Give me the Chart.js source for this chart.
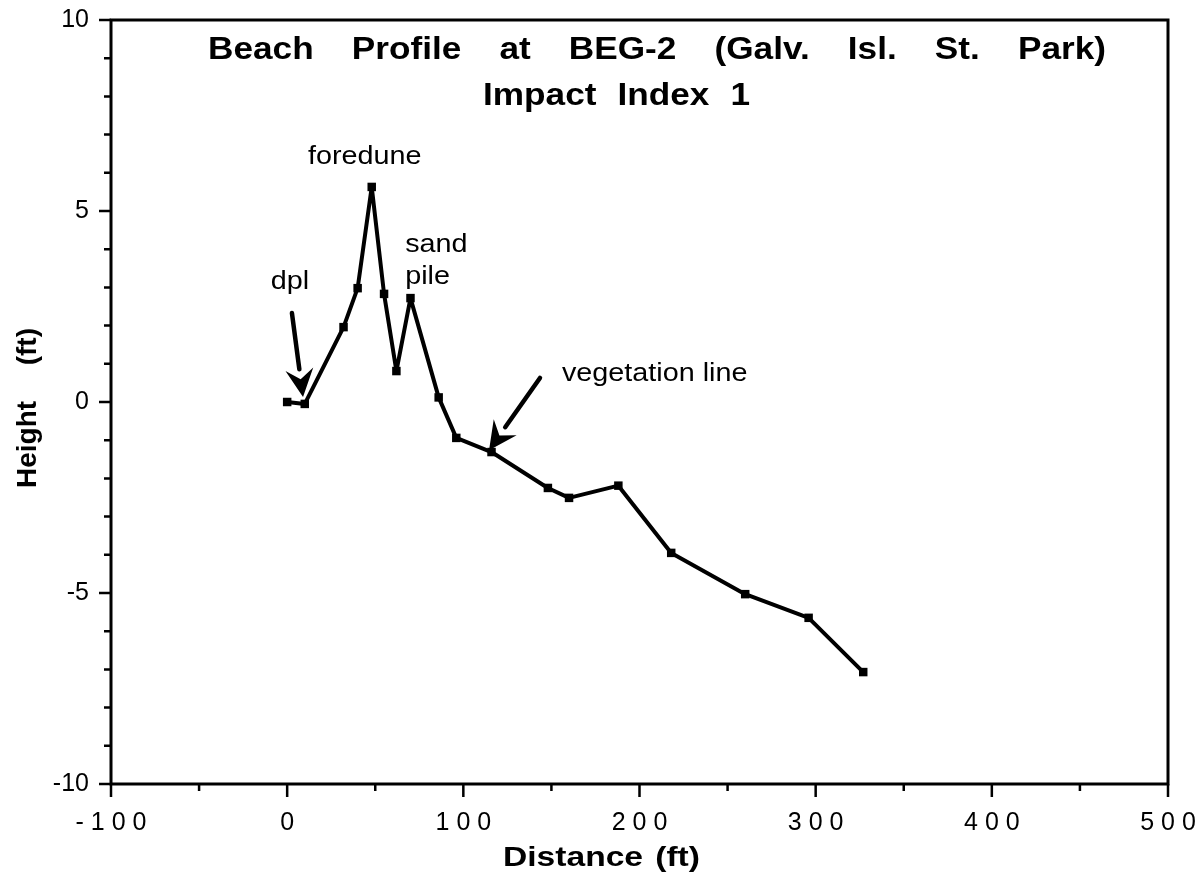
<!DOCTYPE html>
<html>
<head>
<meta charset="utf-8">
<script src="https://cdn.jsdelivr.net/npm/chart.js@4"></script>
<style>
  html, body { margin: 0; padding: 0; background: #fff; }
  #wrap { width: 1204px; height: 876px; }
</style>
</head>
<body>
<div id="wrap"><canvas id="profile" width="1204" height="876"></canvas></div>
<script>
// beach profile
var distance = [0, 10, 32, 40, 48, 55, 62, 70, 86, 96, 116, 148, 160, 188, 218, 260, 296, 327];
var height = [0, -0.05, 1.96, 2.98, 5.63, 2.83, 0.81, 2.72, 0.12, -0.94, -1.31, -2.25, -2.51, -2.19, -3.95, -5.03, -5.65, -7.07];

var xTicks = [-100, 0, 100, 200, 300, 400, 500];
var yTicks = [-10, -5, 0, 5, 10];

var titleLines = ['Beach Profile at BEG-2 (Galv. Isl. St. Park)', 'Impact Index 1'];
var xTitle = 'Distance (ft)';
var yTitle = 'Height (ft)';

// labels and arrows, placed in data units
var notes = [
  { text: 'foredune', x: 44, y: 6.4, align: 'center' },
  { text: 'sand', x: 67, y: 4.1, align: 'left' },
  { text: 'pile', x: 67, y: 3.28, align: 'left' },
  { text: 'dpl', x: 1.6, y: 3.15, align: 'center' },
  { text: 'vegetation line', x: 156, y: 0.72, align: 'left' }
];
var arrows = [
  { from: [2.7, 2.33], to: [9.0, 0.13] },
  { from: [143.5, 0.63], to: [114.6, -1.26] }
];

var points = distance.map(function (d, i) { return { x: d, y: height[i] }; });

function stretchText(ctx, text, x, y, font, sx, align) {
  ctx.save();
  ctx.font = font;
  var w = ctx.measureText(text).width * sx;
  var left = align === 'center' ? x - w / 2 : (align === 'right' ? x - w : x);
  ctx.translate(left, y);
  ctx.scale(sx, 1);
  ctx.textAlign = 'left';
  ctx.textBaseline = 'middle';
  ctx.fillText(text, 0, 0);
  ctx.restore();
}

// spread the words of a line between two edges
function fitWords(ctx, text, left, right, baseline, font, sx) {
  var words = text.split(' ');
  ctx.save();
  ctx.font = font;
  var widths = words.map(function (w) { return ctx.measureText(w).width * sx; });
  var total = widths.reduce(function (a, b) { return a + b; }, 0);
  var gap = words.length > 1 ? (right - left - total) / (words.length - 1) : 0;
  var pos = left;
  ctx.textAlign = 'left';
  ctx.textBaseline = 'alphabetic';
  words.forEach(function (w, i) {
    ctx.save();
    ctx.translate(pos, baseline);
    ctx.scale(sx, 1);
    ctx.fillText(w, 0, 0);
    ctx.restore();
    pos += widths[i] + gap;
  });
  ctx.restore();
}

var decorations = {
  id: 'decorations',
  afterDraw: function (chart) {
    var ctx = chart.ctx;
    var a = chart.chartArea;
    var xs = chart.scales.x, ys = chart.scales.y;
    ctx.save();
    ctx.fillStyle = '#000';
    ctx.strokeStyle = '#000';

    // frame
    ctx.lineWidth = 3;
    ctx.strokeRect(a.left, a.top, a.right - a.left, a.bottom - a.top);

    // tick marks
    ctx.lineWidth = 2.5;
    ctx.beginPath();
    ys.ticks.forEach(function (t) {
      var py = ys.getPixelForValue(t.value);
      var len = yTicks.indexOf(t.value) >= 0 ? 12 : 7;
      ctx.moveTo(a.left - len, py);
      ctx.lineTo(a.left, py);
    });
    xs.ticks.forEach(function (t) {
      var px = xs.getPixelForValue(t.value);
      var len = xTicks.indexOf(t.value) >= 0 ? 13 : 7;
      ctx.moveTo(px, a.bottom);
      ctx.lineTo(px, a.bottom + len);
    });
    ctx.stroke();

    // title inside the frame
    fitWords(ctx, titleLines[0], a.left + 97, a.left + 995, a.top + 39, 'bold 32px "Liberation Sans"', 1.1);
    fitWords(ctx, titleLines[1], a.left + 372, a.left + 639, a.top + 85, 'bold 32px "Liberation Sans"', 1.1);

    // axis titles
    fitWords(ctx, xTitle, 503, 700, 866, 'bold 28px "Liberation Sans"', 1.2);
    ctx.save();
    ctx.translate(36, (a.top + a.bottom) / 2 + 6);
    ctx.rotate(-Math.PI / 2);
    fitWords(ctx, yTitle, -80, 80, 0, 'bold 28px "Liberation Sans"', 1.0);
    ctx.restore();

    // annotations
    notes.forEach(function (n) {
      stretchText(ctx, n.text, xs.getPixelForValue(n.x), ys.getPixelForValue(n.y),
        '25px "Liberation Sans"', 1.15, n.align);
    });
    arrows.forEach(function (ar) {
      var x0 = xs.getPixelForValue(ar.from[0]), y0 = ys.getPixelForValue(ar.from[1]);
      var x1 = xs.getPixelForValue(ar.to[0]), y1 = ys.getPixelForValue(ar.to[1]);
      var ang = Math.atan2(y1 - y0, x1 - x0);
      var head = 28, half = 14;
      var bx = x1 - head * Math.cos(ang), by = y1 - head * Math.sin(ang);
      ctx.lineWidth = 4.5;
      ctx.lineCap = 'round';
      ctx.beginPath();
      ctx.moveTo(x0, y0);
      ctx.lineTo(bx, by);
      ctx.stroke();
      ctx.beginPath();
      ctx.moveTo(x1, y1);
      ctx.lineTo(bx + half * Math.sin(ang), by - half * Math.cos(ang));
      ctx.lineTo(x1 - (head - 10) * Math.cos(ang), y1 - (head - 10) * Math.sin(ang));
      ctx.lineTo(bx - half * Math.sin(ang), by + half * Math.cos(ang));
      ctx.closePath();
      ctx.fill();
    });
    ctx.restore();
  }
};

var ctx = document.getElementById('profile').getContext('2d');
var chart = new Chart(ctx, {
  type: 'scatter',
  data: {
    datasets: [{
      data: points,
      showLine: true,
      borderColor: '#000',
      backgroundColor: '#000',
      borderWidth: 4,
      borderJoinStyle: 'round',
      pointStyle: 'rect',
      pointRadius: 6,
      pointBorderWidth: 0,
      tension: 0
    }]
  },
  options: {
    responsive: false,
    animation: false,
    events: [],
    layout: { padding: { top: 20, right: 36, left: 0, bottom: 0 } },
    plugins: {
      legend: { display: false },
      tooltip: { enabled: false },
      title: { display: false }
    },
    scales: {
      x: {
        type: 'linear',
        min: -100,
        max: 500,
        border: { display: false },
        grid: { display: false, drawTicks: false },
        ticks: {
          stepSize: 50,
          autoSkip: false,
          maxRotation: 0,
          padding: 24,
          color: '#000',
          font: { family: 'Liberation Sans', size: 25 },
          callback: function (v) {
            return xTicks.indexOf(v) >= 0 ? String(v).split('').join(' ') : '';
          }
        },
        afterFit: function (s) {
          s.height = 92;
          s.paddingLeft = 0;
          s.paddingRight = 0;
        }
      },
      y: {
        type: 'linear',
        min: -10,
        max: 10,
        border: { display: false },
        grid: { display: false, drawTicks: false },
        ticks: {
          stepSize: 1,
          autoSkip: false,
          padding: 22,
          color: '#000',
          font: { family: 'Liberation Sans', size: 25 },
          callback: function (v) { return yTicks.indexOf(v) >= 0 ? String(v) : ''; }
        },
        afterFit: function (s) {
          s.width = 111;
          s.paddingTop = 0;
          s.paddingBottom = 0;
        }
      }
    }
  },
  plugins: [decorations]
});
</script>
</body>
</html>
